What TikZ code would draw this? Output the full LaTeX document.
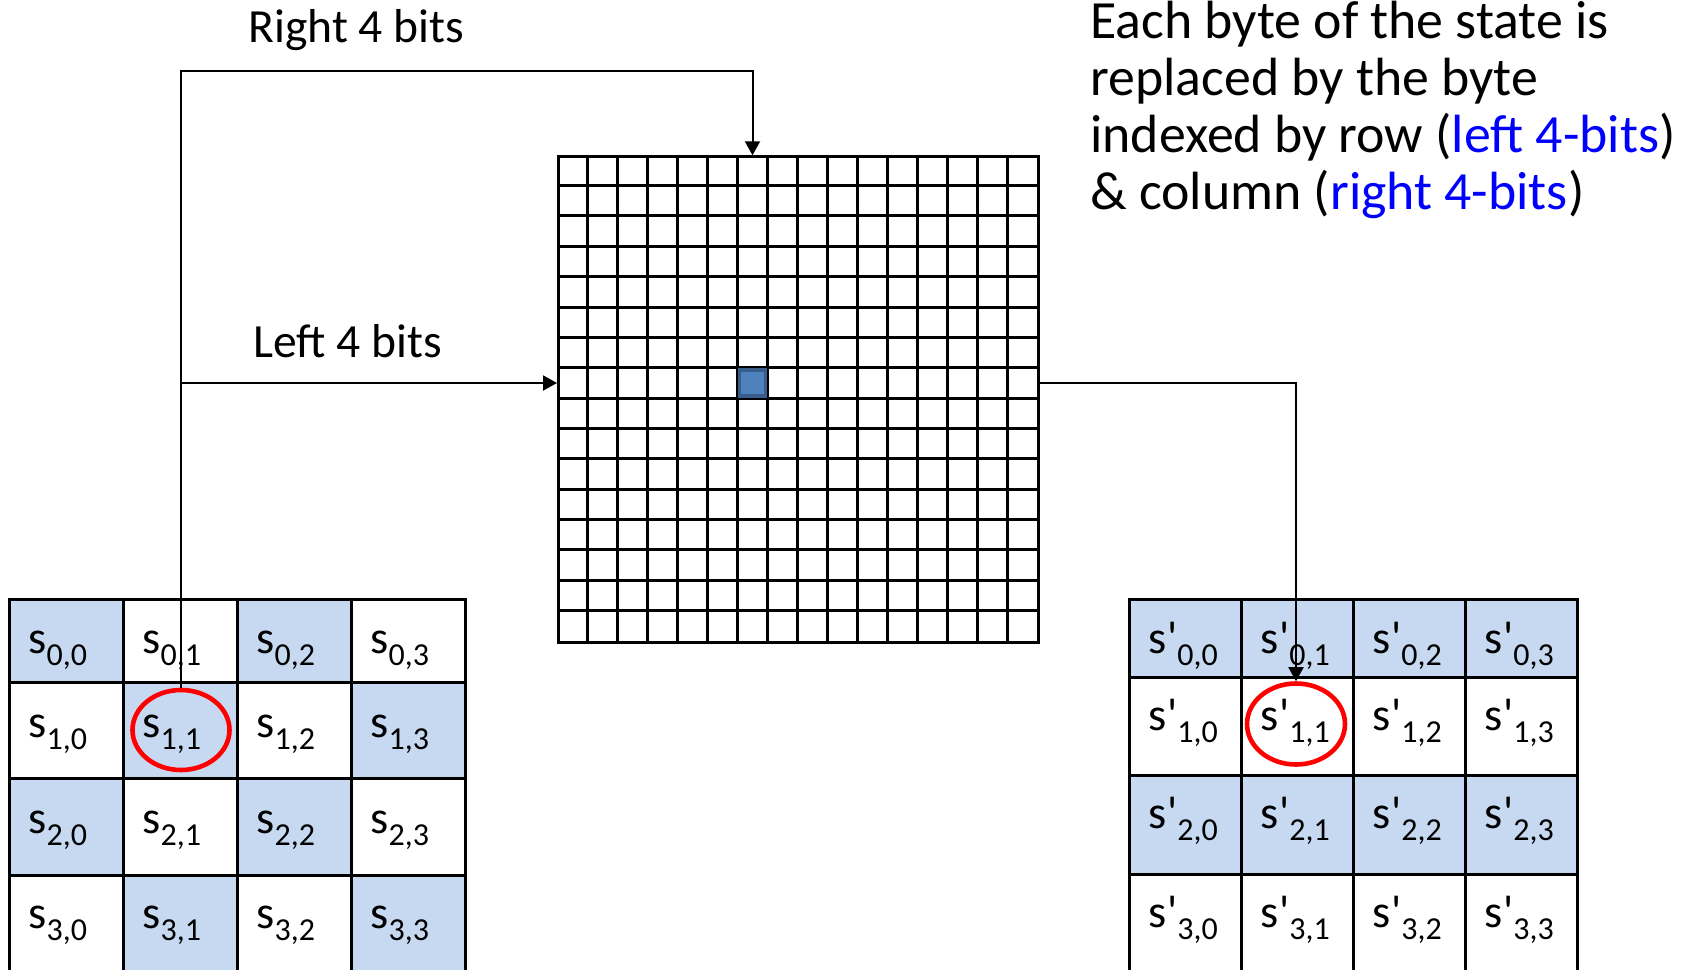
\documentclass[tikz,border=0pt]{standalone}
\usepackage{fontspec}
\setmainfont{Carlito}
\newfontfamily\cellfont{Carlito}[Ligatures=TeXOff]
\usetikzlibrary{arrows.meta,shapes.geometric}
\definecolor{lb}{HTML}{C6D9F1}
\definecolor{hitfill}{HTML}{4F81BD}
\definecolor{hitdraw}{HTML}{385D8A}
\definecolor{ringred}{HTML}{FF0000}
\definecolor{txtblue}{HTML}{0000FF}
\newcommand{\cellS}[1]{s\lower6pt\hbox{\fontsize{16}{16}\selectfont #1}}
\newcommand{\cellSp}[1]{s'\lower6pt\hbox{\fontsize{16}{16}\selectfont #1}}
\begin{document}
\begin{tikzpicture}[x=0.5pt,y=-0.5pt,
  conn/.style={line width=1pt,draw=black},
  arr/.style={-{Triangle[length=7pt,width=7.5pt]}},
  lbl/.style={anchor=base west,inner sep=0,font=\fontsize{23.8}{28}\selectfont},
  para/.style={anchor=base west,inner sep=0,font=\fontsize{26.9}{28.5}\selectfont},
  cl/.style={anchor=base west,inner sep=0,font=\cellfont\fontsize{23.2}{23}\selectfont},
  ring/.style={ellipse,draw=ringred,line width=2.3pt,inner sep=0},
  gridln/.style={line width=1.5pt}]
\useasboundingbox (0,0) rectangle (1683,970);
\clip (0,0) rectangle (1683,970);

% ---------- left state grid ----------
\fill[lb] (9,599) rectangle (123,682) (237,599) rectangle (351,682)
          (123,682) rectangle (237,778) (351,682) rectangle (465,778)
          (9,778) rectangle (123,875) (237,778) rectangle (351,875)
          (123,875) rectangle (237,975) (351,875) rectangle (465,975);
\draw[gridln] (9,599) rectangle (465,971);
\foreach \x in {123,237,351} \draw[gridln] (\x,599) -- (\x,971);
\foreach \y in {682,778,875} \draw[gridln] (9,\y) -- (465,\y);
\foreach \r/\y in {0/653,1/737,2/833,3/928}
  \foreach \c/\x in {0/28,1/142,2/256,3/370}
    \node[cl] (s\r\c) at (\x,\y) {\cellS{\r,\c}};

% ---------- right state grid ----------
\fill[lb] (1129,599) rectangle (1577,677) (1129,775) rectangle (1577,874);
\draw[gridln] (1129,599) rectangle (1577,971);
\foreach \x in {1241,1353,1465} \draw[gridln] (\x,599) -- (\x,971);
\foreach \y in {677,775,874} \draw[gridln] (1129,\y) -- (1577,\y);
\foreach \r/\y in {0/653,1/730,2/828,3/927}
  \foreach \c/\x in {0/1148.5,1/1260.5,2/1372.5,3/1484.5}
    \node[cl] (t\r\c) at (\x,\y) {\cellSp{\r,\c}};

% ---------- S-box ----------
\node[draw,gridln,anchor=north west,inner sep=0,minimum width=240pt,minimum height=242.7pt] (sbox) at (557,155.3) {};
\foreach \i in {1,...,15} {
  \draw[gridln] ({557+30*\i},155.3) -- ({557+30*\i},640.7);
  \draw[gridln] (557,{155.3+30.34*\i}) -- (1037,{155.3+30.34*\i});
}
\node[fill=hitfill,draw=hitdraw,line width=1.6pt,minimum size=13pt,inner sep=0] (hit) at (752.5,383) {};

% ---------- rings ----------
\node[ring,minimum width=48.5pt,minimum height=40pt] (inC) at (181,730) {};
\node[ring,minimum width=49pt,minimum height=40.5pt] (outC) at (1296,724) {};

% ---------- labels ----------
\node[lbl] (rl) at (248,42) {Right 4 bits};
\node[lbl] (ll) at (253,357) {Left 4 bits};
\node[para] (p1) at (1090,38) {Each byte of the state is};
\node[para] (p2) at (1090,95) {replaced by the byte};
\node[para] (p3) at (1090,152) {indexed by row (\textcolor{txtblue}{left 4-bits})};
\node[para] (p4) at (1090,209) {\& column (\textcolor{txtblue}{right 4-bits})};

% ---------- connectors ----------
\coordinate (tl) at (181,71);
\draw[conn,arr] (inC.north) -- (inC.north |- tl) -- (hit.center |- tl) -- (hit.center |- sbox.north);
\draw[conn,arr] (inC.north |- hit.center) -- (sbox.west |- hit.center);
\draw[conn,arr] (sbox.east |- hit.center) -| (outC.north);
\end{tikzpicture}
\end{document}
